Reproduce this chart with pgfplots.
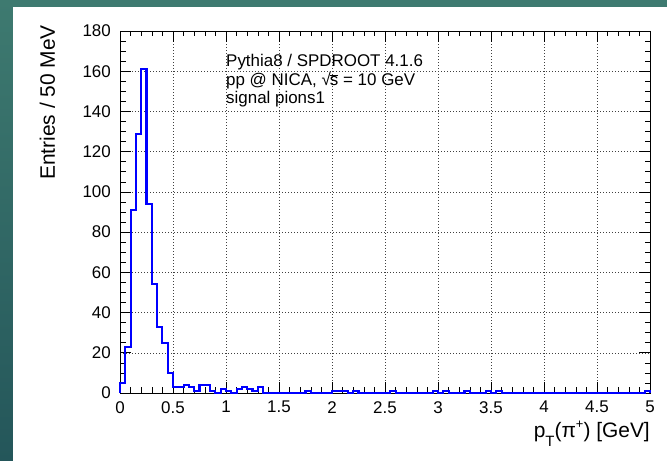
\documentclass[border=0pt]{standalone}
\usepackage{pgfplots}
\pgfplotsset{compat=1.18}
\usepackage{fontspec}
\setmainfont{Liberation Sans}
\definecolor{rootblue}{RGB}{0,0,255}
\definecolor{bgtop}{RGB}{62,122,112}
\definecolor{bgbot}{RGB}{36,86,90}
\begin{document}
\begin{tikzpicture}[x=1bp,y=1bp]
\shade[top color=bgtop,bottom color=bgbot] (0,0) rectangle (667,461);
\fill[white] (13,0) rectangle (667,454);
\begin{axis}[
  at={(120bp,68bp)}, anchor=south west,
  scale only axis, width=530bp, height=362bp,
  xmin=0, xmax=5, ymin=0, ymax=180,
  xtick={0,0.5,1,1.5,2,2.5,3,3.5,4,4.5,5},
  ytick={0,20,40,60,80,100,120,140,160,180},
  minor x tick num=4, minor y tick num=3,
  tick pos=both, tick align=inside,
  major tick length=11bp, minor tick length=5.5bp,
  tick style={black, line width=0.6bp},
  axis line style={black, line width=0.8bp},
  grid=major,
  major grid style={black!75, line width=0.5bp, dash pattern=on 1bp off 2bp},
  /pgf/number format/assume math mode=true,
  tick label style={font=\fontsize{17}{17}\selectfont, text=black},
  yticklabel style={anchor=east, inner sep=0pt, xshift=-9bp},
  xticklabel style={anchor=north, inner sep=0pt, yshift=-8bp},
  every axis y label/.style={at={(axis description cs:-0.1368,1.0166)}, rotate=90, anchor=east, inner sep=0pt, font=\fontsize{21}{21}\selectfont},
  every axis x label/.style={at={(axis description cs:1,-0.1243)}, anchor=base east, inner sep=0pt, font=\fontsize{21}{21}\selectfont},
  ylabel={Entries / 50 MeV},
  xlabel={p\raisebox{-0.4em}{\fontsize{15}{15}\selectfont T}(π\raisebox{0.45em}{\fontsize{13}{13}\selectfont +}) [GeV]},
  clip=false,
]
\addplot[const plot mark left, rootblue, line width=2.1bp] coordinates {
(0,0)
(0.00,5)(0.05,23)(0.10,91)(0.15,129)(0.20,161)(0.25,94)(0.30,54)(0.35,33)(0.40,25)(0.45,10)
(0.50,3)(0.55,3)(0.60,4)(0.65,3)(0.70,1)(0.75,4)(0.80,4)(0.85,1)(0.90,0)(0.95,2)
(1.00,1)(1.05,0)(1.10,2)(1.15,3)(1.20,2)(1.25,1)(1.30,3)(1.35,0)(1.40,0)(1.45,0)
(1.50,0)(1.55,0)(1.60,0)(1.65,0)(1.70,0)(1.75,1)(1.80,0)(1.85,0)(1.90,0)(1.95,0)
(2.00,1)(2.05,1)(2.10,1)(2.15,0)(2.20,1)(2.25,0)(2.30,0)(2.35,0)(2.40,0)(2.45,0)
(2.50,0)(2.55,1)(2.60,0)(2.65,0)(2.70,0)(2.75,0)(2.80,0)(2.85,0)(2.90,0)(2.95,1)
(3.00,0)(3.05,1)(3.10,0)(3.15,0)(3.20,0)(3.25,1)(3.30,0)(3.35,0)(3.40,0)(3.45,1)
(3.50,0)(3.55,1)(3.60,0)(3.65,0)(3.70,0)(3.75,0)(3.80,0)(3.85,0)(3.90,0)(3.95,0)
(4.00,0)(4.05,0)(4.10,0)(4.15,0)(4.20,0)(4.25,0)(4.30,0)(4.35,0)(4.40,0)(4.45,0)
(4.50,0)(4.55,0)(4.60,0)(4.65,0)(4.70,0)(4.75,0)(4.80,0)(4.85,0)(4.90,0)(4.95,1)
(5.00,1)(5.00,0)
};
\node[anchor=base west, inner sep=0pt, font=\fontsize{17}{17}\selectfont] at (axis cs:1.0,162.1) {Pythia8 / SPDROOT 4.1.6};
\node[anchor=base west, inner sep=0pt, font=\fontsize{17}{17}\selectfont] at (axis cs:1.0,153.0) {pp @ NICA, √\kern-0.05em$\overline{\hbox{s}}$ = 10 GeV};
\node[anchor=base west, inner sep=0pt, font=\fontsize{17}{17}\selectfont] at (axis cs:1.0,144.0) {signal pions1};
\end{axis}
\pgfresetboundingbox
\useasboundingbox (0,0) rectangle (667,461);
\end{tikzpicture}
\end{document}
